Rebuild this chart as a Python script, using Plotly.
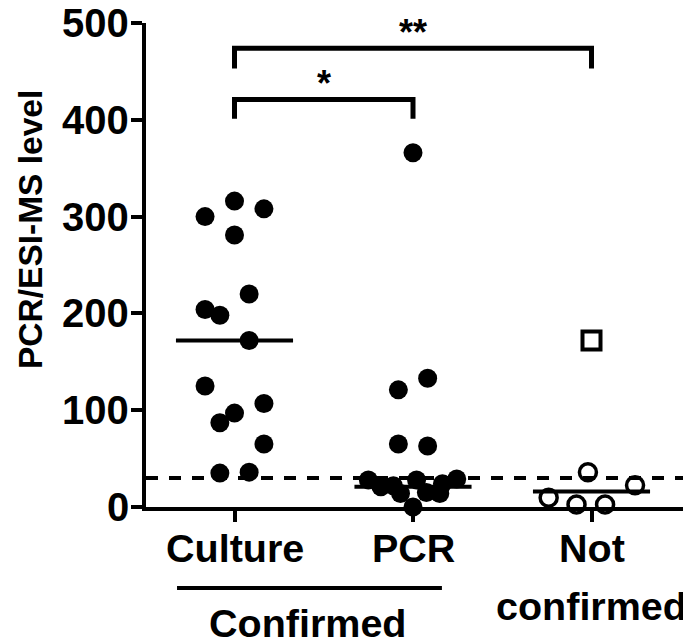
import plotly.graph_objects as go

# ---- data ----
category_lines = [["Culture"], ["PCR"], ["Not", "confirmed"]]
culture_values = [316, 308, 300, 281, 220, 204, 198, 172, 125, 107, 97, 87, 65, 36, 35]
culture_jitter = [0, 0.165, -0.165, 0, 0.082, -0.165, -0.082, 0.082, -0.165, 0.165, 0, -0.082, 0.165, 0.082, -0.082]
pcr_values = [366, 133, 121, 65, 63, 28, 21, 22, 14, 0, 15, 14, 24, 29, 28]
pcr_jitter = [0, 0.082, -0.082, -0.082, 0.082, -0.25, -0.18, -0.11, -0.07, 0, 0.075, 0.15, 0.165, 0.245, 0.02]
notconf_circle_values = [9.5, 2.6, 36, 2.6, 22.5]
notconf_circle_jitter = [-0.24, -0.084, -0.02, 0.076, 0.244]
notconf_square_values = [172]
notconf_square_jitter = [0]
medians = [172, 21, 16]
threshold = 30
y_ticks = [0, 100, 200, 300, 400, 500]
y_ticklabels = ["0", "100", "200", "300", "400", "500"]
y_title = "PCR/ESI-MS level"
group_label = "Confirmed"
comparisons = [  # (from idx, to idx, label, bar level, leg bottom)
    (0, 2, "**", 474, 453),
    (0, 1, "*", 421, 401),
]

FONT = "Liberation Sans"

# page layout (screen pixels of the plot area; the page body has an 8px margin)
PX_L, PX_R, PX_T, PX_B = 146, 683, 23, 507
X_UNIT = 178.5          # px per category
X0_SCREEN = 234.5       # screen x of first category
x_range = [(PX_L - X0_SCREEN) / X_UNIT, (PX_R - X0_SCREEN) / X_UNIT]
y_range = [0, 500]

def py(Y):
    return (PX_B - Y) / (PX_B - PX_T)
def pxx(X):
    return (X - PX_L) / (PX_R - PX_L)

fig = go.Figure()

# median lines
half = 0.328
for i, m in enumerate(medians):
    fig.add_trace(go.Scatter(x=[i - half, i + half], y=[m, m], mode="lines",
                             line=dict(color="black", width=4), showlegend=False,
                             hoverinfo="skip", cliponaxis=False))

# threshold dashed line
fig.add_trace(go.Scatter(x=x_range, y=[threshold, threshold], mode="lines",
                         line=dict(color="black", width=4, dash="12px,11px"),
                         showlegend=False, cliponaxis=False))

fig.add_trace(go.Scatter(x=[0 + j for j in culture_jitter], y=culture_values, mode="markers",
                         marker=dict(symbol="circle", size=19, color="black", line=dict(width=0)),
                         showlegend=False, cliponaxis=False))
fig.add_trace(go.Scatter(x=[1 + j for j in pcr_jitter], y=pcr_values, mode="markers",
                         marker=dict(symbol="circle", size=19, color="black", line=dict(width=0)),
                         showlegend=False, cliponaxis=False))
fig.add_trace(go.Scatter(x=[2 + j for j in notconf_circle_jitter], y=notconf_circle_values, mode="markers",
                         marker=dict(symbol="circle-open", size=17, color="black", line=dict(width=3.5, color="black")),
                         showlegend=False, cliponaxis=False))
fig.add_trace(go.Scatter(x=[2 + j for j in notconf_square_jitter], y=notconf_square_values, mode="markers",
                         marker=dict(symbol="square-open", size=18, color="black", line=dict(width=4, color="black")),
                         showlegend=False, cliponaxis=False))

# significance brackets
for a, b, lab, top, bot in comparisons:
    fig.add_trace(go.Scatter(x=[a, a, b, b], y=[bot, top, top, bot], mode="lines",
                             line=dict(color="black", width=5), showlegend=False, cliponaxis=False))
    fig.add_annotation(x=(a + b) / 2, y=top, xref="x", yref="y", text=lab, showarrow=False,
                       yanchor="bottom", yshift=-7,
                       font=dict(family=FONT, size=36, color="black", weight="bold"))

# y tick labels
for v, t in zip(y_ticks, y_ticklabels):
    fig.add_annotation(x=pxx(131), y=v, xref="paper", yref="y", text=t, showarrow=False,
                       xanchor="right", yanchor="middle",
                       font=dict(family=FONT, size=40, color="black", weight="bold"))

# category labels
LINE_PITCH = 58
for i, lines in enumerate(category_lines):
    for k, t in enumerate(lines):
        fig.add_annotation(x=i, y=py(524 + k * LINE_PITCH), xref="x", yref="paper", text=t,
                           showarrow=False, yanchor="top", align="center",
                           font=dict(family=FONT, size=39.5, color="black", weight="bold"))

# group line "Confirmed"
fig.add_shape(type="line", xref="x", yref="paper", x0=-0.322, x1=1.162, y0=py(588), y1=py(588),
              line=dict(color="black", width=4))
fig.add_annotation(x=0.41, y=py(599), xref="x", yref="paper", text=group_label, showarrow=False,
                   yanchor="top", font=dict(family=FONT, size=39.5, color="black", weight="bold"))

# y title
fig.add_annotation(x=pxx(31), y=py(230), xref="paper", yref="paper", text=y_title, showarrow=False,
                   textangle=-90, xanchor="center", yanchor="middle",
                   font=dict(family=FONT, size=33.5, color="black", weight="bold"))

fig.update_layout(
    width=683, height=632,
    margin=dict(l=PX_L - 8, r=683 + 8 - PX_R, t=PX_T - 8, b=632 + 8 - PX_B, autoexpand=False),
    plot_bgcolor="white", paper_bgcolor="white",
    font=dict(family=FONT, color="black"),
    xaxis=dict(range=x_range, showgrid=False, zeroline=False, showline=True, automargin=False,
               linecolor="black", linewidth=4, ticks="outside", ticklen=11, tickwidth=4,
               tickcolor="black", tickvals=[0, 1, 2], showticklabels=False),
    yaxis=dict(range=y_range, showgrid=False, zeroline=False,
               showline=True, automargin=False,
               linecolor="black", linewidth=4, ticks="outside", ticklen=11, tickwidth=4,
               tickcolor="black", tickvals=y_ticks, showticklabels=False),
)

fig.write_html("out.html")
